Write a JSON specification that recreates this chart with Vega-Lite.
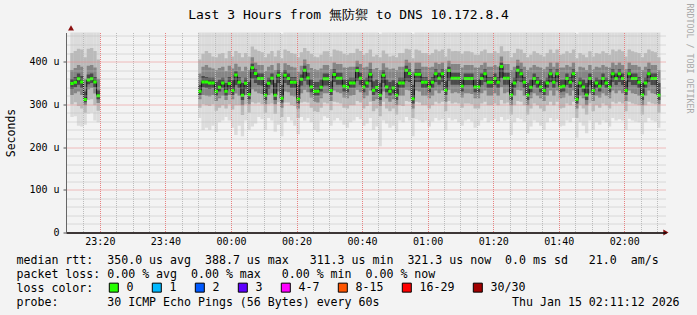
{
"$schema": "https://vega.github.io/schema/vega-lite/v6.json",
"width": 600, "height": 200,
"autosize": {"type": "none"},
"padding": {"left": 66, "top": 32.5, "right": 31, "bottom": 82.5},
"background": "#f3f3f3",
"config": {"view": {"fill": "#ffffff", "stroke": null}, "font": "DejaVu Sans Mono"},
"title": {"text": "Last 3 Hours from 無防禦 to DNS 10.172.8.4", "fontSize": 13, "fontWeight": "normal", "color": "#000000", "anchor": "middle", "dx": -17.5, "dy": 22.5},
"data": {"values": [
{"t":"2026-01-14T23:11:00Z","s":1,"md":348.5,"mn":270,"l1":300,"l2":322,"l3":336,"h3":360,"h2":380,"h1":420,"mx":490},
{"t":"2026-01-14T23:12:00Z","s":1,"md":351.6,"mn":272,"l1":305,"l2":326,"l3":340,"h3":364,"h2":385,"h1":425,"mx":500},
{"t":"2026-01-14T23:13:00Z","s":1,"md":359.5,"mn":250,"l1":296,"l2":330,"l3":346,"h3":372,"h2":392,"h1":430,"mx":495},
{"t":"2026-01-14T23:14:00Z","s":1,"md":352.0,"mn":248,"l1":290,"l2":322,"l3":338,"h3":366,"h2":388,"h1":428,"mx":500},
{"t":"2026-01-14T23:15:00Z","s":1,"md":311.3,"mn":252,"l1":280,"l2":298,"l3":305,"h3":330,"h2":360,"h1":410,"mx":480},
{"t":"2026-01-14T23:16:00Z","s":1,"md":357.0,"mn":278,"l1":310,"l2":335,"l3":347,"h3":370,"h2":390,"h1":430,"mx":495},
{"t":"2026-01-14T23:17:00Z","s":1,"md":360.0,"mn":280,"l1":312,"l2":338,"l3":350,"h3":372,"h2":392,"h1":432,"mx":490},
{"t":"2026-01-14T23:18:00Z","s":1,"md":352.0,"mn":262,"l1":298,"l2":325,"l3":340,"h3":364,"h2":386,"h1":425,"mx":485},
{"t":"2026-01-14T23:19:00Z","s":1,"md":320.0,"mn":258,"l1":285,"l2":303,"l3":312,"h3":332,"h2":360,"h1":405,"mx":470},
{"t":"2026-01-14T23:50:00Z","s":2,"md":330.6,"mn":268,"l1":292,"l2":312,"l3":322,"h3":345,"h2":372,"h1":405,"mx":470},
{"t":"2026-01-14T23:51:00Z","s":2,"md":352.4,"mn":240,"l1":300,"l2":322,"l3":340,"h3":366,"h2":388,"h1":418,"mx":500},
{"t":"2026-01-14T23:52:00Z","s":2,"md":352.4,"mn":245,"l1":298,"l2":320,"l3":338,"h3":364,"h2":392,"h1":425,"mx":510},
{"t":"2026-01-14T23:53:00Z","s":2,"md":350.1,"mn":240,"l1":296,"l2":318,"l3":336,"h3":362,"h2":386,"h1":420,"mx":505},
{"t":"2026-01-14T23:54:00Z","s":2,"md":350.1,"mn":250,"l1":300,"l2":322,"l3":338,"h3":362,"h2":384,"h1":412,"mx":470},
{"t":"2026-01-14T23:55:00Z","s":2,"md":330.6,"mn":235,"l1":285,"l2":308,"l3":320,"h3":352,"h2":380,"h1":410,"mx":480},
{"t":"2026-01-14T23:56:00Z","s":2,"md":340.0,"mn":258,"l1":292,"l2":314,"l3":330,"h3":358,"h2":385,"h1":418,"mx":495},
{"t":"2026-01-14T23:57:00Z","s":2,"md":350.1,"mn":262,"l1":298,"l2":320,"l3":338,"h3":362,"h2":388,"h1":420,"mx":500},
{"t":"2026-01-14T23:58:00Z","s":2,"md":330.6,"mn":270,"l1":290,"l2":310,"l3":320,"h3":350,"h2":378,"h1":408,"mx":470},
{"t":"2026-01-14T23:59:00Z","s":2,"md":348.5,"mn":262,"l1":300,"l2":322,"l3":336,"h3":364,"h2":390,"h1":425,"mx":505},
{"t":"2026-01-15T00:00:00Z","s":2,"md":332.2,"mn":245,"l1":288,"l2":312,"l3":322,"h3":356,"h2":384,"h1":412,"mx":480},
{"t":"2026-01-15T00:01:00Z","s":2,"md":368.8,"mn":228,"l1":298,"l2":325,"l3":345,"h3":378,"h2":395,"h1":425,"mx":510},
{"t":"2026-01-15T00:02:00Z","s":2,"md":351.7,"mn":250,"l1":298,"l2":320,"l3":338,"h3":364,"h2":388,"h1":420,"mx":490},
{"t":"2026-01-15T00:03:00Z","s":2,"md":321.2,"mn":225,"l1":275,"l2":298,"l3":310,"h3":350,"h2":378,"h1":410,"mx":475},
{"t":"2026-01-15T00:04:00Z","s":2,"md":349.3,"mn":262,"l1":300,"l2":322,"l3":336,"h3":362,"h2":388,"h1":420,"mx":495},
{"t":"2026-01-15T00:05:00Z","s":2,"md":322.8,"mn":240,"l1":280,"l2":300,"l3":312,"h3":352,"h2":380,"h1":412,"mx":470},
{"t":"2026-01-15T00:06:00Z","s":2,"md":385.4,"mn":248,"l1":305,"l2":335,"l3":360,"h3":395,"h2":410,"h1":435,"mx":510},
{"t":"2026-01-15T00:07:00Z","s":2,"md":371.9,"mn":255,"l1":302,"l2":330,"l3":350,"h3":382,"h2":398,"h1":428,"mx":500},
{"t":"2026-01-15T00:08:00Z","s":2,"md":360.2,"mn":270,"l1":304,"l2":326,"l3":345,"h3":372,"h2":392,"h1":425,"mx":505},
{"t":"2026-01-15T00:09:00Z","s":2,"md":360.2,"mn":265,"l1":300,"l2":324,"l3":344,"h3":372,"h2":392,"h1":422,"mx":480},
{"t":"2026-01-15T00:10:00Z","s":2,"md":321.2,"mn":240,"l1":280,"l2":300,"l3":310,"h3":348,"h2":378,"h1":410,"mx":470},
{"t":"2026-01-15T00:11:00Z","s":2,"md":349.3,"mn":268,"l1":300,"l2":322,"l3":336,"h3":362,"h2":388,"h1":418,"mx":495},
{"t":"2026-01-15T00:12:00Z","s":2,"md":361.0,"mn":262,"l1":302,"l2":326,"l3":346,"h3":372,"h2":392,"h1":425,"mx":490},
{"t":"2026-01-15T00:13:00Z","s":2,"md":321.2,"mn":236,"l1":278,"l2":300,"l3":310,"h3":350,"h2":380,"h1":412,"mx":470},
{"t":"2026-01-15T00:14:00Z","s":2,"md":368.0,"mn":252,"l1":305,"l2":330,"l3":350,"h3":380,"h2":396,"h1":426,"mx":505},
{"t":"2026-01-15T00:15:00Z","s":2,"md":314.2,"mn":225,"l1":270,"l2":292,"l3":304,"h3":345,"h2":375,"h1":408,"mx":465},
{"t":"2026-01-15T00:16:00Z","s":2,"md":368.0,"mn":258,"l1":304,"l2":330,"l3":350,"h3":380,"h2":396,"h1":428,"mx":510},
{"t":"2026-01-15T00:17:00Z","s":2,"md":360.2,"mn":270,"l1":304,"l2":328,"l3":345,"h3":372,"h2":392,"h1":425,"mx":500},
{"t":"2026-01-15T00:18:00Z","s":2,"md":351.7,"mn":262,"l1":298,"l2":320,"l3":338,"h3":364,"h2":388,"h1":420,"mx":490},
{"t":"2026-01-15T00:19:00Z","s":2,"md":351.7,"mn":250,"l1":296,"l2":318,"l3":338,"h3":364,"h2":386,"h1":418,"mx":485},
{"t":"2026-01-15T00:20:00Z","s":2,"md":312.5,"mn":230,"l1":268,"l2":290,"l3":302,"h3":345,"h2":376,"h1":410,"mx":470},
{"t":"2026-01-15T00:21:00Z","s":2,"md":358.7,"mn":270,"l1":304,"l2":326,"l3":344,"h3":370,"h2":390,"h1":422,"mx":500},
{"t":"2026-01-15T00:22:00Z","s":2,"md":379.7,"mn":262,"l1":306,"l2":334,"l3":355,"h3":390,"h2":405,"h1":432,"mx":510},
{"t":"2026-01-15T00:23:00Z","s":2,"md":361.8,"mn":268,"l1":304,"l2":328,"l3":346,"h3":374,"h2":394,"h1":425,"mx":505},
{"t":"2026-01-15T00:24:00Z","s":2,"md":340.7,"mn":258,"l1":292,"l2":316,"l3":328,"h3":358,"h2":385,"h1":418,"mx":480},
{"t":"2026-01-15T00:25:00Z","s":2,"md":330.6,"mn":240,"l1":284,"l2":306,"l3":320,"h3":352,"h2":382,"h1":412,"mx":470},
{"t":"2026-01-15T00:26:00Z","s":2,"md":330.6,"mn":235,"l1":282,"l2":304,"l3":320,"h3":352,"h2":380,"h1":410,"mx":475},
{"t":"2026-01-15T00:27:00Z","s":2,"md":340.0,"mn":262,"l1":292,"l2":314,"l3":330,"h3":358,"h2":384,"h1":416,"mx":490},
{"t":"2026-01-15T00:28:00Z","s":2,"md":359.5,"mn":272,"l1":304,"l2":326,"l3":344,"h3":372,"h2":392,"h1":424,"mx":505},
{"t":"2026-01-15T00:29:00Z","s":2,"md":359.5,"mn":268,"l1":302,"l2":326,"l3":344,"h3":372,"h2":392,"h1":424,"mx":500},
{"t":"2026-01-15T00:30:00Z","s":2,"md":332.2,"mn":250,"l1":286,"l2":308,"l3":322,"h3":354,"h2":382,"h1":412,"mx":475},
{"t":"2026-01-15T00:31:00Z","s":2,"md":369.6,"mn":262,"l1":306,"l2":332,"l3":352,"h3":382,"h2":398,"h1":428,"mx":510},
{"t":"2026-01-15T00:32:00Z","s":2,"md":361.0,"mn":268,"l1":304,"l2":328,"l3":346,"h3":374,"h2":394,"h1":426,"mx":505},
{"t":"2026-01-15T00:33:00Z","s":2,"md":361.0,"mn":262,"l1":302,"l2":326,"l3":346,"h3":374,"h2":394,"h1":424,"mx":495},
{"t":"2026-01-15T00:34:00Z","s":2,"md":342.3,"mn":252,"l1":292,"l2":316,"l3":330,"h3":358,"h2":386,"h1":418,"mx":485},
{"t":"2026-01-15T00:35:00Z","s":2,"md":340.0,"mn":245,"l1":290,"l2":314,"l3":328,"h3":358,"h2":386,"h1":416,"mx":480},
{"t":"2026-01-15T00:36:00Z","s":2,"md":350.1,"mn":258,"l1":298,"l2":320,"l3":338,"h3":362,"h2":388,"h1":420,"mx":495},
{"t":"2026-01-15T00:37:00Z","s":2,"md":350.1,"mn":262,"l1":298,"l2":322,"l3":338,"h3":362,"h2":388,"h1":420,"mx":490},
{"t":"2026-01-15T00:38:00Z","s":2,"md":378.9,"mn":270,"l1":308,"l2":334,"l3":355,"h3":388,"h2":402,"h1":430,"mx":510},
{"t":"2026-01-15T00:39:00Z","s":2,"md":361.0,"mn":265,"l1":304,"l2":328,"l3":346,"h3":374,"h2":394,"h1":425,"mx":500},
{"t":"2026-01-15T00:40:00Z","s":2,"md":340.7,"mn":250,"l1":290,"l2":314,"l3":328,"h3":358,"h2":386,"h1":416,"mx":480},
{"t":"2026-01-15T00:41:00Z","s":2,"md":350.1,"mn":255,"l1":296,"l2":320,"l3":338,"h3":362,"h2":388,"h1":420,"mx":490},
{"t":"2026-01-15T00:42:00Z","s":2,"md":370.4,"mn":268,"l1":306,"l2":332,"l3":352,"h3":382,"h2":398,"h1":428,"mx":505},
{"t":"2026-01-15T00:43:00Z","s":2,"md":332.9,"mn":240,"l1":284,"l2":308,"l3":322,"h3":354,"h2":382,"h1":412,"mx":470},
{"t":"2026-01-15T00:44:00Z","s":2,"md":339.2,"mn":248,"l1":290,"l2":312,"l3":328,"h3":358,"h2":385,"h1":416,"mx":480},
{"t":"2026-01-15T00:45:00Z","s":2,"md":321.2,"mn":202,"l1":272,"l2":296,"l3":310,"h3":350,"h2":380,"h1":410,"mx":465},
{"t":"2026-01-15T00:46:00Z","s":2,"md":368.0,"mn":262,"l1":306,"l2":330,"l3":350,"h3":380,"h2":396,"h1":426,"mx":505},
{"t":"2026-01-15T00:47:00Z","s":2,"md":340.7,"mn":255,"l1":290,"l2":314,"l3":328,"h3":358,"h2":386,"h1":418,"mx":490},
{"t":"2026-01-15T00:48:00Z","s":2,"md":330.6,"mn":245,"l1":284,"l2":306,"l3":320,"h3":352,"h2":382,"h1":412,"mx":475},
{"t":"2026-01-15T00:49:00Z","s":2,"md":338.4,"mn":250,"l1":290,"l2":312,"l3":326,"h3":356,"h2":384,"h1":414,"mx":480},
{"t":"2026-01-15T00:50:00Z","s":2,"md":321.2,"mn":236,"l1":276,"l2":298,"l3":310,"h3":350,"h2":380,"h1":410,"mx":470},
{"t":"2026-01-15T00:51:00Z","s":2,"md":350.1,"mn":262,"l1":298,"l2":320,"l3":338,"h3":362,"h2":388,"h1":420,"mx":495},
{"t":"2026-01-15T00:52:00Z","s":2,"md":350.1,"mn":258,"l1":296,"l2":320,"l3":338,"h3":362,"h2":388,"h1":420,"mx":490},
{"t":"2026-01-15T00:53:00Z","s":2,"md":379.7,"mn":270,"l1":308,"l2":334,"l3":355,"h3":390,"h2":404,"h1":430,"mx":510},
{"t":"2026-01-15T00:54:00Z","s":2,"md":371.9,"mn":262,"l1":306,"l2":332,"l3":352,"h3":382,"h2":398,"h1":428,"mx":505},
{"t":"2026-01-15T00:55:00Z","s":2,"md":313.0,"mn":225,"l1":268,"l2":290,"l3":302,"h3":345,"h2":376,"h1":408,"mx":465},
{"t":"2026-01-15T00:56:00Z","s":2,"md":370.4,"mn":265,"l1":306,"l2":332,"l3":352,"h3":382,"h2":398,"h1":428,"mx":505},
{"t":"2026-01-15T00:57:00Z","s":2,"md":370.4,"mn":262,"l1":304,"l2":330,"l3":352,"h3":382,"h2":398,"h1":426,"mx":500},
{"t":"2026-01-15T00:58:00Z","s":2,"md":351.7,"mn":258,"l1":298,"l2":320,"l3":338,"h3":364,"h2":388,"h1":420,"mx":490},
{"t":"2026-01-15T00:59:00Z","s":2,"md":351.7,"mn":262,"l1":298,"l2":320,"l3":338,"h3":364,"h2":388,"h1":420,"mx":495},
{"t":"2026-01-15T01:00:00Z","s":2,"md":340.7,"mn":248,"l1":290,"l2":314,"l3":328,"h3":358,"h2":386,"h1":416,"mx":480},
{"t":"2026-01-15T01:01:00Z","s":2,"md":351.7,"mn":260,"l1":298,"l2":320,"l3":338,"h3":364,"h2":388,"h1":420,"mx":490},
{"t":"2026-01-15T01:02:00Z","s":2,"md":371.2,"mn":268,"l1":306,"l2":332,"l3":352,"h3":382,"h2":398,"h1":428,"mx":505},
{"t":"2026-01-15T01:03:00Z","s":2,"md":361.0,"mn":262,"l1":302,"l2":326,"l3":346,"h3":374,"h2":394,"h1":424,"mx":500},
{"t":"2026-01-15T01:04:00Z","s":2,"md":371.2,"mn":265,"l1":306,"l2":332,"l3":352,"h3":382,"h2":398,"h1":428,"mx":505},
{"t":"2026-01-15T01:05:00Z","s":2,"md":332.9,"mn":238,"l1":284,"l2":306,"l3":322,"h3":354,"h2":382,"h1":412,"mx":470},
{"t":"2026-01-15T01:06:00Z","s":2,"md":378.9,"mn":268,"l1":308,"l2":334,"l3":355,"h3":388,"h2":402,"h1":430,"mx":510},
{"t":"2026-01-15T01:07:00Z","s":2,"md":361.0,"mn":262,"l1":302,"l2":326,"l3":346,"h3":374,"h2":394,"h1":424,"mx":500},
{"t":"2026-01-15T01:08:00Z","s":2,"md":361.0,"mn":265,"l1":304,"l2":328,"l3":346,"h3":374,"h2":394,"h1":425,"mx":500},
{"t":"2026-01-15T01:09:00Z","s":2,"md":361.0,"mn":258,"l1":302,"l2":326,"l3":346,"h3":374,"h2":394,"h1":424,"mx":495},
{"t":"2026-01-15T01:10:00Z","s":2,"md":342.3,"mn":250,"l1":292,"l2":316,"l3":330,"h3":358,"h2":386,"h1":418,"mx":485},
{"t":"2026-01-15T01:11:00Z","s":2,"md":360.2,"mn":262,"l1":302,"l2":326,"l3":345,"h3":372,"h2":392,"h1":424,"mx":500},
{"t":"2026-01-15T01:12:00Z","s":2,"md":360.2,"mn":265,"l1":302,"l2":326,"l3":345,"h3":372,"h2":392,"h1":424,"mx":495},
{"t":"2026-01-15T01:13:00Z","s":2,"md":360.2,"mn":260,"l1":300,"l2":324,"l3":345,"h3":372,"h2":392,"h1":422,"mx":495},
{"t":"2026-01-15T01:14:00Z","s":2,"md":340.7,"mn":245,"l1":290,"l2":314,"l3":328,"h3":358,"h2":386,"h1":416,"mx":480},
{"t":"2026-01-15T01:15:00Z","s":2,"md":340.7,"mn":250,"l1":290,"l2":314,"l3":328,"h3":358,"h2":386,"h1":416,"mx":485},
{"t":"2026-01-15T01:16:00Z","s":2,"md":360.2,"mn":262,"l1":302,"l2":326,"l3":345,"h3":372,"h2":392,"h1":424,"mx":500},
{"t":"2026-01-15T01:17:00Z","s":2,"md":371.2,"mn":268,"l1":306,"l2":332,"l3":352,"h3":382,"h2":398,"h1":428,"mx":505},
{"t":"2026-01-15T01:18:00Z","s":2,"md":351.7,"mn":258,"l1":298,"l2":320,"l3":338,"h3":364,"h2":388,"h1":420,"mx":490},
{"t":"2026-01-15T01:19:00Z","s":2,"md":351.7,"mn":262,"l1":298,"l2":320,"l3":338,"h3":364,"h2":388,"h1":420,"mx":495},
{"t":"2026-01-15T01:20:00Z","s":2,"md":360.2,"mn":265,"l1":302,"l2":326,"l3":345,"h3":372,"h2":392,"h1":424,"mx":500},
{"t":"2026-01-15T01:21:00Z","s":2,"md":351.7,"mn":260,"l1":298,"l2":320,"l3":338,"h3":364,"h2":388,"h1":420,"mx":490},
{"t":"2026-01-15T01:22:00Z","s":2,"md":388.7,"mn":270,"l1":310,"l2":340,"l3":362,"h3":398,"h2":412,"h1":436,"mx":515},
{"t":"2026-01-15T01:23:00Z","s":2,"md":361.0,"mn":262,"l1":302,"l2":326,"l3":346,"h3":374,"h2":394,"h1":424,"mx":500},
{"t":"2026-01-15T01:24:00Z","s":2,"md":361.0,"mn":265,"l1":304,"l2":328,"l3":346,"h3":374,"h2":394,"h1":425,"mx":505},
{"t":"2026-01-15T01:25:00Z","s":2,"md":322.0,"mn":228,"l1":276,"l2":298,"l3":310,"h3":350,"h2":380,"h1":410,"mx":470},
{"t":"2026-01-15T01:26:00Z","s":2,"md":350.1,"mn":258,"l1":298,"l2":320,"l3":338,"h3":362,"h2":388,"h1":420,"mx":490},
{"t":"2026-01-15T01:27:00Z","s":2,"md":379.7,"mn":268,"l1":308,"l2":334,"l3":355,"h3":390,"h2":404,"h1":430,"mx":510},
{"t":"2026-01-15T01:28:00Z","s":2,"md":371.2,"mn":265,"l1":306,"l2":332,"l3":352,"h3":382,"h2":398,"h1":428,"mx":505},
{"t":"2026-01-15T01:29:00Z","s":2,"md":351.7,"mn":260,"l1":298,"l2":320,"l3":338,"h3":364,"h2":388,"h1":420,"mx":490},
{"t":"2026-01-15T01:30:00Z","s":2,"md":322.0,"mn":232,"l1":276,"l2":298,"l3":310,"h3":350,"h2":380,"h1":410,"mx":470},
{"t":"2026-01-15T01:31:00Z","s":2,"md":340.0,"mn":248,"l1":290,"l2":314,"l3":328,"h3":358,"h2":386,"h1":416,"mx":480},
{"t":"2026-01-15T01:32:00Z","s":2,"md":360.2,"mn":262,"l1":302,"l2":326,"l3":345,"h3":372,"h2":392,"h1":424,"mx":500},
{"t":"2026-01-15T01:33:00Z","s":2,"md":351.7,"mn":258,"l1":298,"l2":320,"l3":338,"h3":364,"h2":388,"h1":420,"mx":490},
{"t":"2026-01-15T01:34:00Z","s":2,"md":340.7,"mn":250,"l1":290,"l2":314,"l3":328,"h3":358,"h2":386,"h1":416,"mx":485},
{"t":"2026-01-15T01:35:00Z","s":2,"md":332.2,"mn":240,"l1":284,"l2":308,"l3":322,"h3":354,"h2":382,"h1":412,"mx":470},
{"t":"2026-01-15T01:36:00Z","s":2,"md":350.1,"mn":258,"l1":298,"l2":320,"l3":338,"h3":362,"h2":388,"h1":420,"mx":495},
{"t":"2026-01-15T01:37:00Z","s":2,"md":371.2,"mn":268,"l1":306,"l2":332,"l3":352,"h3":382,"h2":398,"h1":428,"mx":505},
{"t":"2026-01-15T01:38:00Z","s":2,"md":351.7,"mn":260,"l1":298,"l2":320,"l3":338,"h3":364,"h2":388,"h1":420,"mx":490},
{"t":"2026-01-15T01:39:00Z","s":2,"md":371.2,"mn":265,"l1":306,"l2":332,"l3":352,"h3":382,"h2":398,"h1":428,"mx":505},
{"t":"2026-01-15T01:40:00Z","s":2,"md":340.7,"mn":248,"l1":290,"l2":314,"l3":328,"h3":358,"h2":386,"h1":416,"mx":480},
{"t":"2026-01-15T01:41:00Z","s":2,"md":342.3,"mn":250,"l1":292,"l2":316,"l3":330,"h3":358,"h2":386,"h1":418,"mx":485},
{"t":"2026-01-15T01:42:00Z","s":2,"md":360.2,"mn":262,"l1":302,"l2":326,"l3":345,"h3":372,"h2":392,"h1":424,"mx":500},
{"t":"2026-01-15T01:43:00Z","s":2,"md":351.7,"mn":258,"l1":298,"l2":320,"l3":338,"h3":364,"h2":388,"h1":420,"mx":490},
{"t":"2026-01-15T01:44:00Z","s":2,"md":371.2,"mn":268,"l1":306,"l2":332,"l3":352,"h3":382,"h2":398,"h1":428,"mx":505},
{"t":"2026-01-15T01:45:00Z","s":2,"md":312.0,"mn":222,"l1":268,"l2":290,"l3":302,"h3":345,"h2":376,"h1":408,"mx":465},
{"t":"2026-01-15T01:46:00Z","s":2,"md":350.1,"mn":258,"l1":298,"l2":320,"l3":338,"h3":362,"h2":388,"h1":420,"mx":490},
{"t":"2026-01-15T01:47:00Z","s":2,"md":340.7,"mn":250,"l1":290,"l2":314,"l3":328,"h3":358,"h2":386,"h1":416,"mx":480},
{"t":"2026-01-15T01:48:00Z","s":2,"md":322.0,"mn":232,"l1":276,"l2":298,"l3":310,"h3":350,"h2":380,"h1":410,"mx":470},
{"t":"2026-01-15T01:49:00Z","s":2,"md":360.2,"mn":262,"l1":302,"l2":326,"l3":345,"h3":372,"h2":392,"h1":424,"mx":500},
{"t":"2026-01-15T01:50:00Z","s":2,"md":332.2,"mn":240,"l1":284,"l2":308,"l3":322,"h3":354,"h2":382,"h1":412,"mx":475},
{"t":"2026-01-15T01:51:00Z","s":2,"md":350.1,"mn":258,"l1":298,"l2":320,"l3":338,"h3":362,"h2":388,"h1":420,"mx":490},
{"t":"2026-01-15T01:52:00Z","s":2,"md":342.3,"mn":252,"l1":292,"l2":316,"l3":330,"h3":358,"h2":386,"h1":418,"mx":485},
{"t":"2026-01-15T01:53:00Z","s":2,"md":360.2,"mn":262,"l1":302,"l2":326,"l3":345,"h3":372,"h2":392,"h1":424,"mx":500},
{"t":"2026-01-15T01:54:00Z","s":2,"md":350.1,"mn":258,"l1":298,"l2":320,"l3":338,"h3":362,"h2":388,"h1":420,"mx":495},
{"t":"2026-01-15T01:55:00Z","s":2,"md":340.7,"mn":248,"l1":290,"l2":314,"l3":328,"h3":358,"h2":386,"h1":416,"mx":480},
{"t":"2026-01-15T01:56:00Z","s":2,"md":371.2,"mn":268,"l1":306,"l2":332,"l3":352,"h3":382,"h2":398,"h1":428,"mx":505},
{"t":"2026-01-15T01:57:00Z","s":2,"md":360.2,"mn":262,"l1":302,"l2":326,"l3":345,"h3":372,"h2":392,"h1":424,"mx":500},
{"t":"2026-01-15T01:58:00Z","s":2,"md":371.2,"mn":265,"l1":306,"l2":332,"l3":352,"h3":382,"h2":398,"h1":428,"mx":505},
{"t":"2026-01-15T01:59:00Z","s":2,"md":360.2,"mn":262,"l1":302,"l2":326,"l3":345,"h3":372,"h2":392,"h1":424,"mx":495},
{"t":"2026-01-15T02:00:00Z","s":2,"md":332.2,"mn":240,"l1":284,"l2":308,"l3":322,"h3":354,"h2":382,"h1":412,"mx":475},
{"t":"2026-01-15T02:01:00Z","s":2,"md":371.2,"mn":266,"l1":306,"l2":332,"l3":352,"h3":382,"h2":398,"h1":428,"mx":505},
{"t":"2026-01-15T02:02:00Z","s":2,"md":360.2,"mn":262,"l1":302,"l2":326,"l3":345,"h3":372,"h2":392,"h1":424,"mx":500},
{"t":"2026-01-15T02:03:00Z","s":2,"md":360.2,"mn":260,"l1":300,"l2":324,"l3":345,"h3":372,"h2":392,"h1":422,"mx":495},
{"t":"2026-01-15T02:04:00Z","s":2,"md":351.7,"mn":258,"l1":298,"l2":320,"l3":338,"h3":364,"h2":388,"h1":420,"mx":490},
{"t":"2026-01-15T02:05:00Z","s":2,"md":322.0,"mn":230,"l1":276,"l2":298,"l3":310,"h3":350,"h2":380,"h1":410,"mx":470},
{"t":"2026-01-15T02:06:00Z","s":2,"md":350.1,"mn":258,"l1":298,"l2":320,"l3":338,"h3":362,"h2":388,"h1":420,"mx":490},
{"t":"2026-01-15T02:07:00Z","s":2,"md":371.2,"mn":268,"l1":306,"l2":332,"l3":352,"h3":382,"h2":398,"h1":428,"mx":505},
{"t":"2026-01-15T02:08:00Z","s":2,"md":360.2,"mn":262,"l1":302,"l2":326,"l3":345,"h3":372,"h2":392,"h1":424,"mx":500},
{"t":"2026-01-15T02:09:00Z","s":2,"md":360.2,"mn":260,"l1":300,"l2":324,"l3":345,"h3":372,"h2":392,"h1":422,"mx":495},
{"t":"2026-01-15T02:10:00Z","s":2,"md":321.3,"mn":245,"l1":280,"l2":300,"l3":310,"h3":350,"h2":380,"h1":410,"mx":470}
]},
"resolve": {"axis": {"x": "independent", "y": "independent"}},
"layer": [
{"mark": {"type": "bar", "color": "#dcdcdc", "clip": true, "width": 3.4, "xOffset": 1.67},
 "encoding": {
  "x": {"field": "t", "type": "temporal",
        "scale": {"type": "utc", "domain": [1768432272000, 1768443072000], "nice": false},
        "axis": {"orient": "bottom", "grid": true, "gridColor": "#bcbcbc", "gridDash": [1, 1], "values": [1768432500000,1768432800000,1768433100000,1768433400000,1768433700000,1768434000000,1768434300000,1768434600000,1768434900000,1768435200000,1768435500000,1768435800000,1768436100000,1768436400000,1768436700000,1768437000000,1768437300000,1768437600000,1768437900000,1768438200000,1768438500000,1768438800000,1768439100000,1768439400000,1768439700000,1768440000000,1768440300000,1768440600000,1768440900000,1768441200000,1768441500000,1768441800000,1768442100000,1768442400000,1768442700000,1768443000000], "labels": false, "ticks": false, "domain": false, "title": null, "zindex": 1}},
  "y": {"field": "mn", "type": "quantitative", "scale": {"domain": [0, 468], "nice": false, "zero": true},
        "axis": {"orient": "left", "values": [20,40,60,80,120,140,160,180,220,240,260,280,320,340,360,380,420,440,460], "grid": true, "gridColor": "#bcbcbc", "gridDash": [1, 1], "labels": false, "ticks": false, "domain": false, "title": null, "zindex": 1}},
  "y2": {"field": "mx"}
 }},
{"mark": {"type": "bar", "color": "#bababa", "clip": true, "width": 3.4, "xOffset": 1.67},
 "encoding": {
  "x": {"field": "t", "type": "temporal", "axis": null},
  "y": {"field": "l1", "type": "quantitative", "axis": null},
  "y2": {"field": "h1"}
 }},
{"mark": {"type": "bar", "color": "#858585", "clip": true, "width": 3.4, "xOffset": 1.67},
 "encoding": {
  "x": {"field": "t", "type": "temporal", "axis": null},
  "y": {"field": "l2", "type": "quantitative", "axis": null},
  "y2": {"field": "h2"}
 }},
{"mark": {"type": "bar", "color": "#4a4a4a", "clip": true, "width": 3.4, "xOffset": 1.67},
 "encoding": {
  "x": {"field": "t", "type": "temporal", "axis": null},
  "y": {"field": "l3", "type": "quantitative", "axis": null},
  "y2": {"field": "h3"}
 }},
{"mark": {"type": "line", "color": "#151515", "strokeWidth": 1, "interpolate": "step-after", "clip": true},
 "encoding": {
  "x": {"field": "t", "type": "temporal", "axis": null},
  "y": {"field": "md", "type": "quantitative",
        "axis": {"orient": "right", "labels": false, "ticks": false, "domain": false, "grid": false, "title": "RRDTOOL / TOBI OETIKER", "titleFontSize": 8.3, "titleFontWeight": "normal", "titleColor": "#a8a8a8", "titleAngle": 90, "titleX": 22, "titleY": 25.5, "titleAlign": "center", "titleBaseline": "middle"}},
  "detail": {"field": "s", "type": "nominal"}
 }},
{"mark": {"type": "tick", "orient": "horizontal", "size": 3.4, "thickness": 3, "opacity": 1, "clip": true, "color": "#26ff00", "xOffset": 1.67},
 "encoding": {
  "x": {"field": "t", "type": "temporal",
        "axis": {"orient": "bottom", "grid": true, "gridColor": "#e88080", "gridDash": [1, 1], "values": [1768432800000,1768434000000,1768435200000,1768436400000,1768437600000,1768438800000,1768440000000,1768441200000,1768442400000], "labelExpr": "utcFormat(datum.value, '%H:%M')", "labelFontSize": 10, "labelColor": "#000000", "labelPadding": 4, "labelFlush": false, "labelOverlap": false, "ticks": false, "domain": true, "domainColor": "#000000", "domainWidth": 1.5, "zindex": 1,
                 "title": ["median rtt:\u00a0\u00a0350.0 us avg\u00a0\u00a0388.7 us max\u00a0\u00a0\u00a0311.3 us min\u00a0\u00a0321.3 us now\u00a0\u00a00.0 ms sd\u00a0\u00a0\u00a021.0\u00a0\u00a0am/s", "packet loss:\u00a00.00 % avg\u00a0\u00a00.00 % max\u00a0\u00a0\u00a00.00 % min\u00a0\u00a00.00 % now", "loss color:", "probe:\u00a0\u00a0\u00a0\u00a0\u00a0\u00a0\u00a030 ICMP Echo Pings (56 Bytes) every 60s\u00a0\u00a0\u00a0\u00a0\u00a0\u00a0\u00a0\u00a0\u00a0\u00a0\u00a0\u00a0\u00a0\u00a0\u00a0\u00a0\u00a0\u00a0\u00a0Thu Jan 15 02:11:12 2026"],
                 "titleFontSize": 11.6, "titleFontWeight": "normal", "titleColor": "#000000", "titleLineHeight": 14, "titleX": -50, "titleY": 30.5, "titleAlign": "left", "titleBaseline": "alphabetic"}},
  "y": {"field": "md", "type": "quantitative",
        "axis": {"orient": "left", "values": [0, 100, 200, 300, 400], "labelExpr": "datum.value == 0 ? '0' : datum.value + ' u'", "grid": true, "gridColor": "#e88080", "gridDash": [1, 1], "tickSize": 3, "tickColor": "#555555", "labelPadding": 4, "labelFontSize": 10, "labelColor": "#000000", "domain": true, "domainColor": "#666666", "zindex": 1,
                 "title": "Seconds", "titleFontSize": 11.5, "titleFontWeight": "normal", "titleColor": "#000000", "titleX": -55, "titleY": 100, "titleAngle": 270, "titleAlign": "center", "titleBaseline": "middle"}}
 }},
{"data": {"values": [{"lc": "0"}]},
 "mark": {"type": "point", "filled": true, "size": 0},
 "encoding": {
  "color": {"field": "lc", "type": "nominal",
            "scale": {"domain": ["0", "1", "2", "3", "4-7", "8-15", "16-29", "30/30"], "range": ["#26ff00", "#00b8ff", "#0059ff", "#5e00ff", "#ff00ff", "#ff5500", "#ff0000", "#a10000"]},
            "legend": {"orient": "none", "legendX": 42, "legendY": 249, "direction": "horizontal", "title": null, "symbolType": "square", "symbolSize": 81, "symbolStrokeColor": "#000000", "symbolStrokeWidth": 1, "symbolOpacity": 1, "labelFontSize": 11.6, "labelColor": "#000000", "labelOffset": 7, "columnPadding": 16}}
 }},
{"data": {"values": [{"t": "2026-01-14T23:11:12Z", "v": 479}]},
 "mark": {"type": "point", "filled": true, "shape": "triangle-up", "color": "#8b1010", "size": 36, "opacity": 1, "clip": false},
 "encoding": {
  "x": {"field": "t", "type": "temporal", "axis": null},
  "y": {"field": "v", "type": "quantitative", "axis": null}
 }},
{"data": {"values": [{"t": "2026-01-15T02:12:42Z", "v": 0}]},
 "mark": {"type": "point", "filled": true, "shape": "triangle-right", "color": "#8b1010", "size": 36, "opacity": 1, "clip": false},
 "encoding": {
  "x": {"field": "t", "type": "temporal", "axis": null},
  "y": {"field": "v", "type": "quantitative", "axis": null}
 }}
]
}
